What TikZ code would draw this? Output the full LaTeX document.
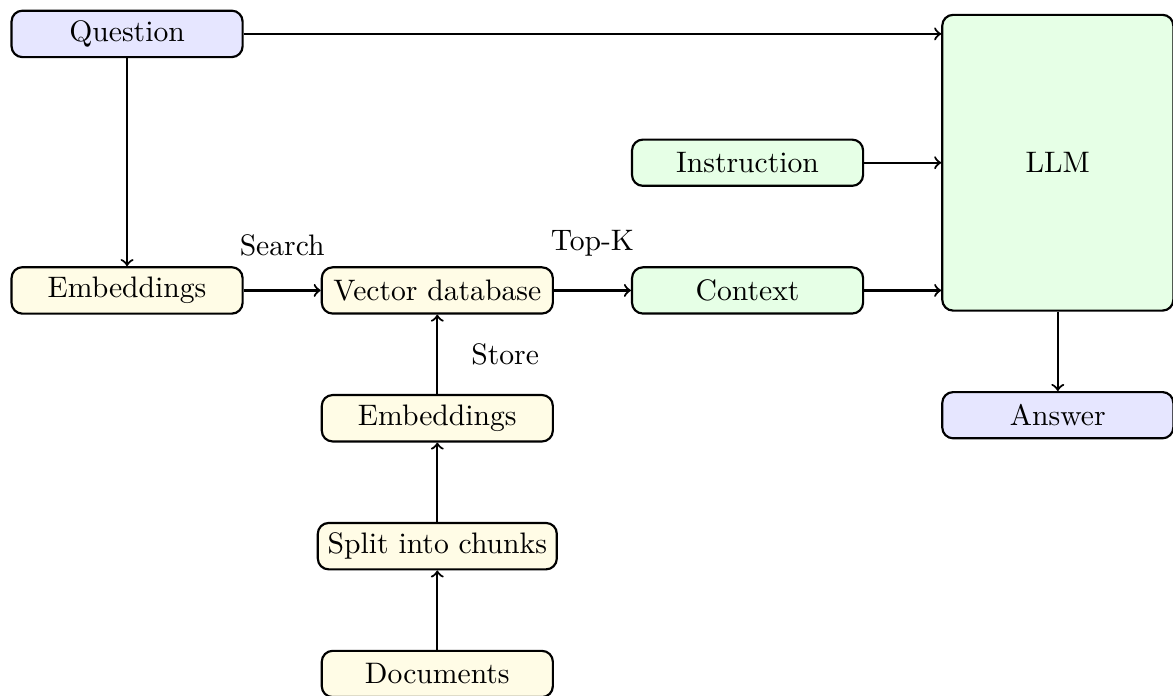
\documentclass[tikz,border=0pt,11pt]{standalone}
\usepackage{tikz}
\usetikzlibrary{positioning}
\definecolor{qblue}{HTML}{E6E6FF}
\definecolor{lgreen}{HTML}{E6FFE6}
\definecolor{lyellow}{HTML}{FFFCE6}
\tikzset{box/.style={draw, thick, rounded corners, minimum width=3cm, minimum height=0.6cm}}
\tikzset{link/.style={->, thick}}

\begin{document}
\begin{tikzpicture}[node distance=1.03cm and 1cm]
  \useasboundingbox (-1.65,0.44) rectangle (13.58,-8.59);

  % query side
  \node[box, fill=qblue] (question) at (0,0) {Question};
  \node[box, fill=lyellow, below=2.7cm of question] (qemb) {Embeddings};
  \node[box, fill=lyellow, right=of qemb] (vecdb) {Vector database};
  \node[box, fill=lgreen, right=of vecdb] (context) {Context};
  \node[box, fill=lgreen, above=of context] (instr) {Instruction};
  \node[box, fill=lgreen, right=of instr, minimum height=3.84cm] (llm) {LLM};
  \node[box, fill=qblue, below=of llm] (answer) {Answer};

  % document side
  \node[box, fill=lyellow, below=of vecdb] (demb) {Embeddings};
  \node[box, fill=lyellow, below=of demb] (split) {Split into chunks};
  \node[box, fill=lyellow, below=of split] (docs) {Documents};

  \draw[link] (question) -- (qemb);
  \draw[link] (question.east) -- (question -| llm.west);
  \draw[link] (qemb) -- node[above=3mm]{Search} (vecdb);
  \draw[link] (vecdb) -- node[above=3mm]{Top-K} (context);
  \draw[link] (context.east) -- (context -| llm.west);
  \draw[link] (instr) -- (llm);
  \draw[link] (llm) -- (answer);

  \draw[link] (docs) -- (split);
  \draw[link] (split) -- (demb);
  \draw[link] (demb) -- node[right=3mm]{Store} (vecdb);
\end{tikzpicture}
\end{document}
